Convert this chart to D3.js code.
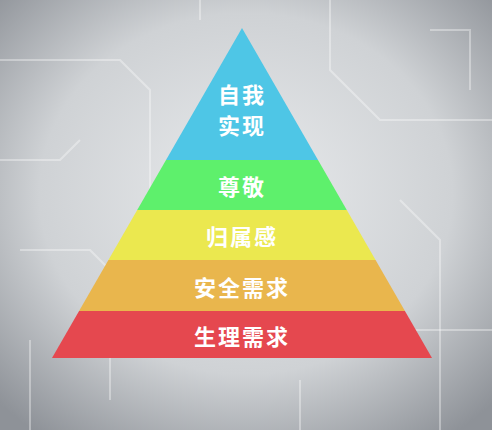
<html>
<head>
  <script src="https://d3js.org/d3.v7.min.js"></script>
  <style>
    body { margin: 0; }
    text { font-family: "Noto Sans CJK SC", sans-serif; font-weight: bold; fill: #fff; }
  </style>
</head>
<body>
  <svg width="492" height="430" id="chart"></svg>
  <script>
    // layers from top to bottom
    const levels = [["自我", "实现"], ["尊敬"], ["归属感"], ["安全需求"], ["生理需求"]];
    const weights = [132, 50, 50, 51, 47];
    const colors = ["#4ec6e6", "#5ef06c", "#ebe84f", "#e9b64d", "#e5484f"];

    const svg = d3.select("#chart");
    const W = 492, H = 430;

    const defs = svg.append("defs");
    const grad = defs.append("radialGradient").attr("id", "bg").attr("cx", "50%").attr("cy", "45%").attr("r", "70%");
    grad.append("stop").attr("offset", "0%").attr("stop-color", "#e8eaec");
    grad.append("stop").attr("offset", "60%").attr("stop-color", "#cfd2d5");
    grad.append("stop").attr("offset", "100%").attr("stop-color", "#8e9298");
    svg.append("rect").attr("width", W).attr("height", H).attr("fill", "url(#bg)");

    // faint circuit texture
    const circuit = [
      [[0, 60], [120, 60], [150, 90], [150, 200]], [[330, 0], [330, 70], [380, 120], [492, 120]],
      [[20, 250], [90, 250], [110, 270], [110, 400]], [[400, 200], [440, 240], [440, 430]],
      [[0, 160], [60, 160], [80, 140]], [[360, 330], [492, 330]], [[200, 0], [200, 20]],
      [[430, 30], [470, 30], [470, 90]], [[30, 340], [30, 430]], [[300, 380], [300, 430]]
    ];
    svg.append("g").selectAll("path").data(circuit).join("path")
      .attr("d", d3.line()).attr("fill", "none").attr("stroke", "#fff")
      .attr("stroke-opacity", 0.35).attr("stroke-width", 2);

    const cum = [0];
    weights.forEach(w => cum.push(cum[cum.length - 1] + w));
    const y = d3.scaleLinear().domain([0, cum[cum.length - 1]]).range([28, 358]);
    const half = d3.scaleLinear().domain([0, cum[cum.length - 1]]).range([0, 190]);
    const cx = 242;

    const layer = svg.append("g").selectAll("g").data(levels).join("g");
    layer.append("path")
      .attr("fill", (d, i) => colors[i])
      .attr("d", (d, i) => {
        const a = cum[i], b = cum[i + 1];
        return d3.line()([[cx - half(a), y(a)], [cx + half(a), y(a)], [cx + half(b), y(b)], [cx - half(b), y(b)]]) + "Z";
      });
    layer.each(function (d, i) {
      const mid = (y(cum[i]) + y(cum[i + 1])) / 2 + (i === 0 ? 14 : 0);
      const n = d.length;
      d3.select(this).selectAll("text").data(d).join("text")
        .attr("x", cx).attr("y", (t, j) => mid + (j - (n - 1) / 2) * 31)
        .attr("text-anchor", "middle").attr("dominant-baseline", "central")
        .attr("font-size", 22).attr("letter-spacing", 2).text(t => t);
    });
  </script>
</body>
</html>
